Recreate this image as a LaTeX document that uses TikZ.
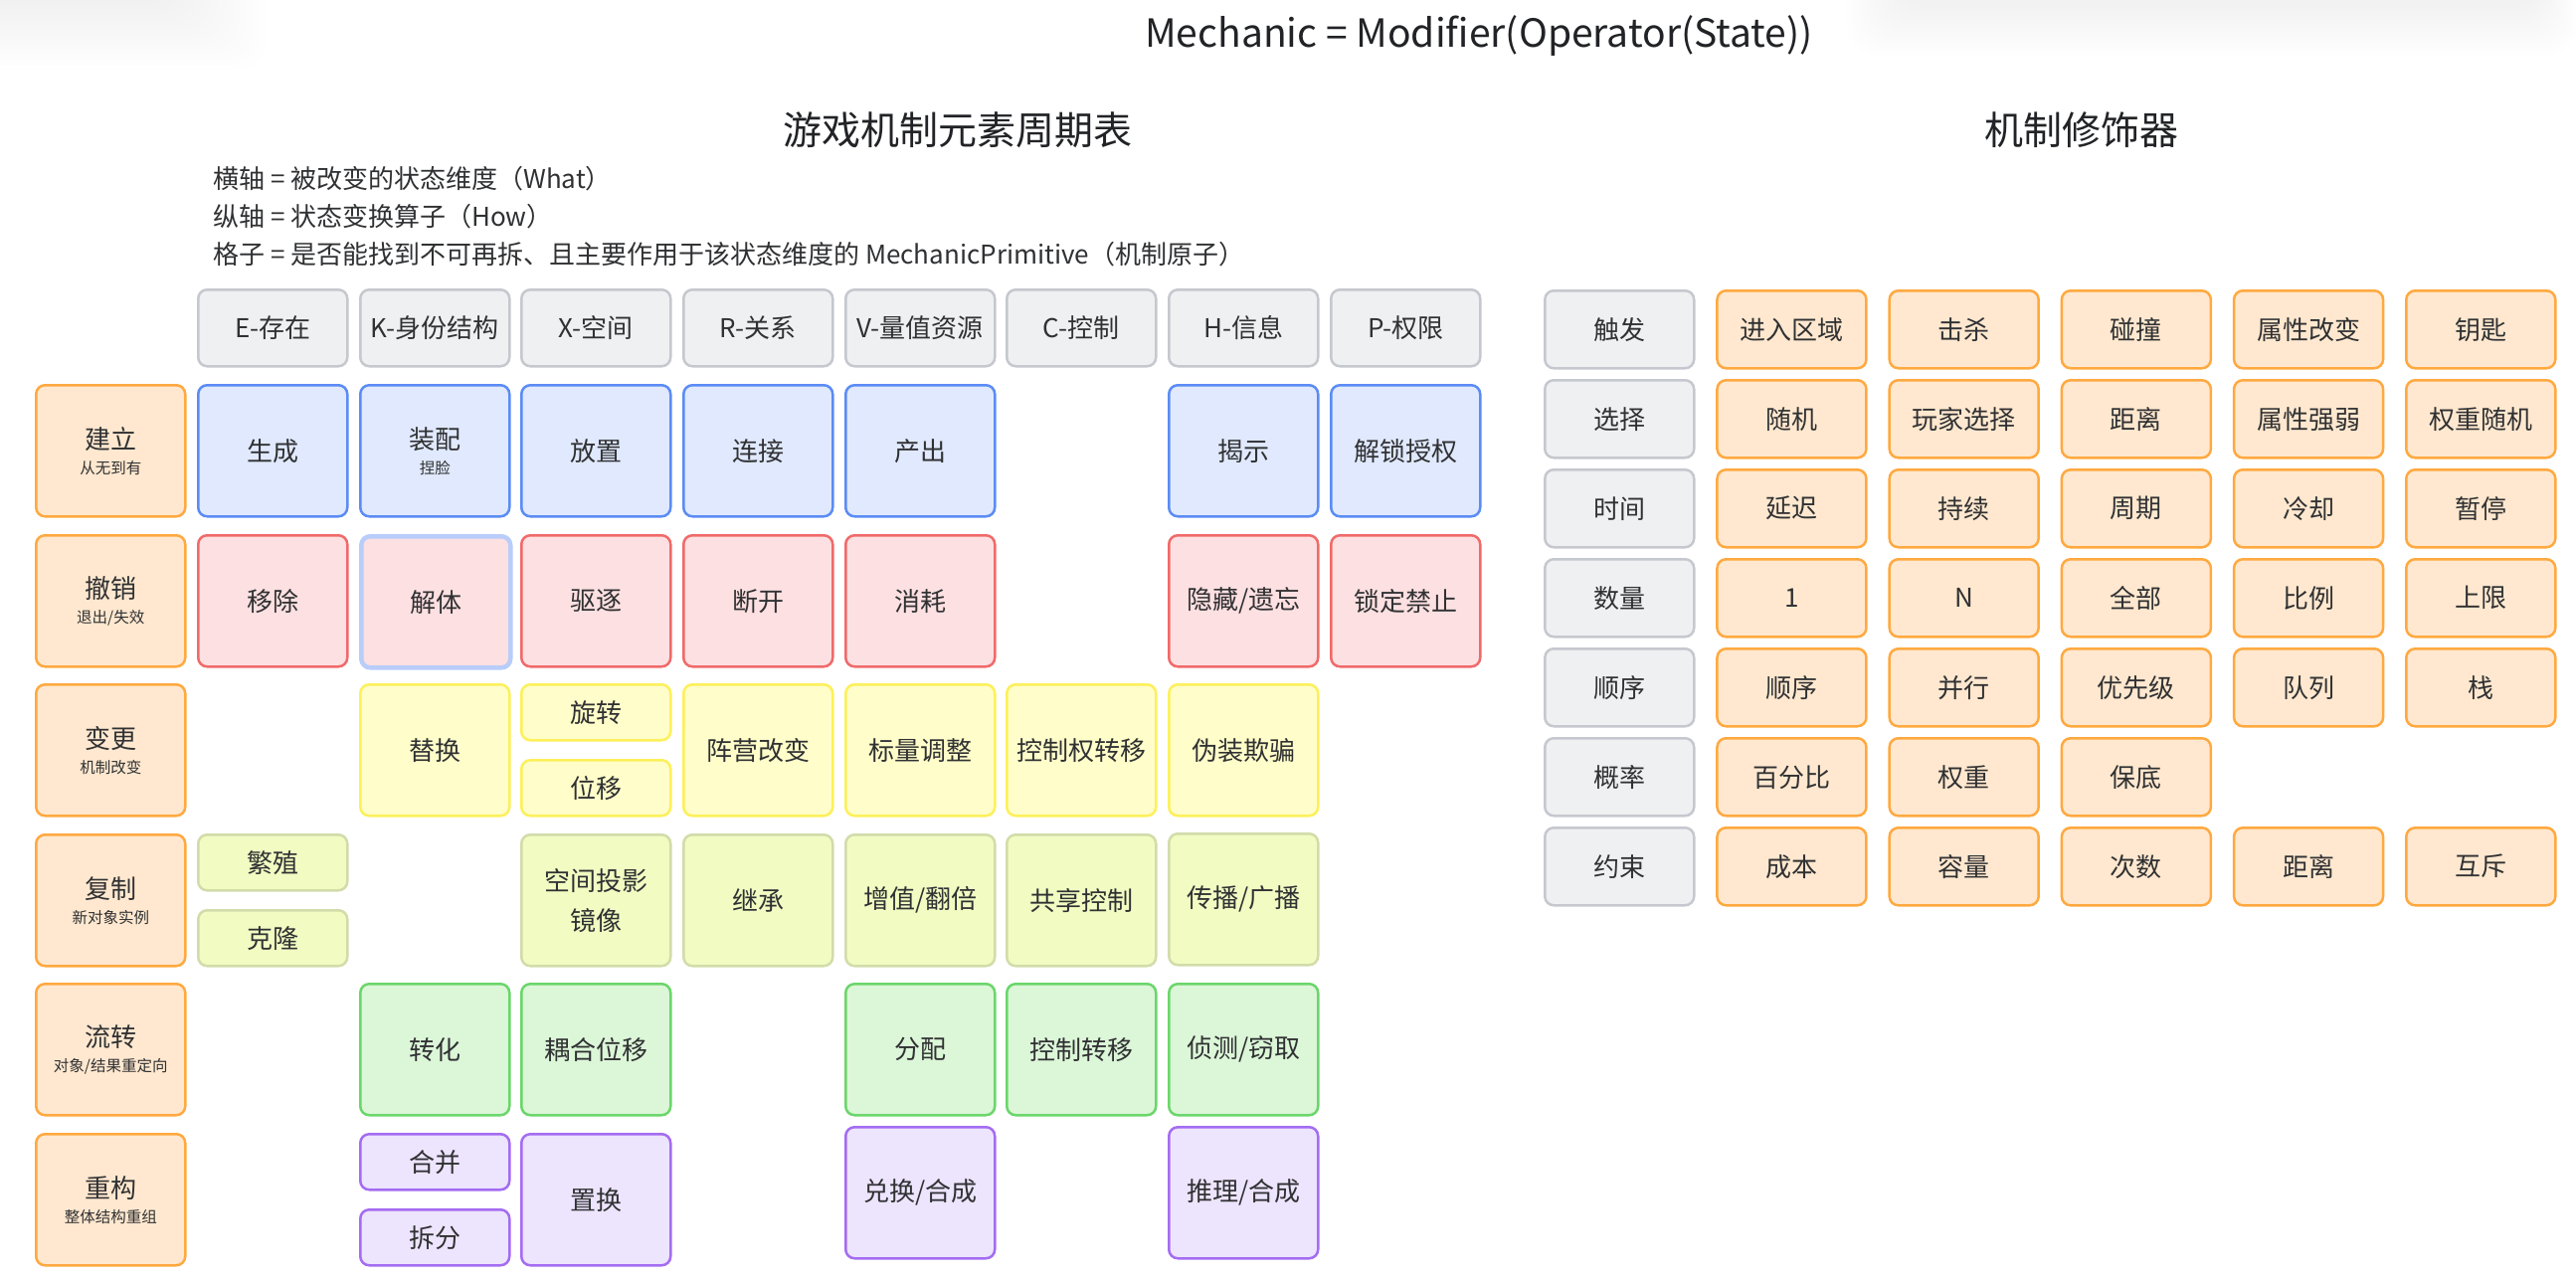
\documentclass[tikz,border=0pt]{standalone}
\usepackage{fontspec}
\setmainfont{Noto Sans CJK SC}
\definecolor{txt}{HTML}{303133}
\definecolor{ttl}{HTML}{222326}
\definecolor{hdrF}{HTML}{EFF0F2}
\definecolor{hdrD}{HTML}{C5C8CE}
\definecolor{rowF}{HTML}{FFE8CF}
\definecolor{rowD}{HTML}{FFA940}
\definecolor{bluF}{HTML}{E0E9FD}
\definecolor{bluD}{HTML}{5B8CF5}
\definecolor{redF}{HTML}{FDE0E1}
\definecolor{redD}{HTML}{F06A6A}
\definecolor{jtD}{HTML}{B9CDFA}
\definecolor{yelF}{HTML}{FFFDC9}
\definecolor{yelD}{HTML}{FDF05A}
\definecolor{limF}{HTML}{F1FBC2}
\definecolor{limD}{HTML}{D2DCAA}
\definecolor{grnF}{HTML}{DCF6D8}
\definecolor{grnD}{HTML}{6BD66B}
\definecolor{purF}{HTML}{EDE4FD}
\definecolor{purD}{HTML}{A46CF2}
\newcommand\subfnt{\fontsize{15.5}{18}\selectfont}
\newcommand\gcell[6]{\node[#1, minimum width=150pt, minimum height=#5pt] (#2) at (#3,#4) {#6};}
\begin{document}
\begin{tikzpicture}[x=1pt,y=-1pt,
  cellbox/.style={draw, line width=2.5pt, rounded corners=9pt, text=txt, inner sep=0pt,
    align=center, font=\fontsize{26}{31}\selectfont, anchor=north west},
  hdrbox/.style={cellbox, fill=hdrF, draw=hdrD},
  rowbox/.style={cellbox, fill=rowF, draw=rowD},
  blubox/.style={cellbox, fill=bluF, draw=bluD},
  redbox/.style={cellbox, fill=redF, draw=redD},
  jtbox/.style={cellbox, fill=redF, draw=jtD, line width=4.5pt},
  yelbox/.style={cellbox, fill=yelF, draw=yelD},
  limbox/.style={cellbox, fill=limF, draw=limD},
  grnbox/.style={cellbox, fill=grnF, draw=grnD},
  purbox/.style={cellbox, fill=purF, draw=purD},
  modhdr/.style={hdrbox, minimum width=150pt, minimum height=78pt},
  moditem/.style={rowbox, minimum width=150pt, minimum height=78pt},
  titletext/.style={text=ttl, inner sep=0pt, font=\fontsize{39}{45}\selectfont},
  legendtext/.style={text=txt, inner sep=0pt, anchor=base west, font=\fontsize{26}{31}\selectfont}
]
\useasboundingbox (0,0) rectangle (2590,1286);
\fill[white] (0,0) rectangle (2590,1286);
% faint shadows at the top edge
\begin{scope}
\clip (0,0) rectangle (2590,1286);
\foreach \i in {0,...,14} {
  \fill[black, opacity=0.0055, rounded corners=30pt] (-300,-300) rectangle ({170+\i*7},{\i*5});
}
\foreach \i in {0,...,12} {
  \fill[black, opacity=0.0035, rounded corners=30pt] ({1905-\i*4},-300) rectangle ({2555+\i*3},{8+\i*4});
}
\end{scope}

% titles
\node[titletext, anchor=base] (maintitle) at (1487,47) {Mechanic = Modifier(Operator(State))};
\node[titletext, anchor=base] (ptitle) at (963,145) {游戏机制元素周期表};
\node[titletext, anchor=base] (mtitle) at (2093,145) {机制修饰器};
\node[legendtext] (lg1) at (214,189) {横轴 = 被改变的状态维度（What）};
\node[legendtext] (lg2) at (214,227) {纵轴 = 状态变换算子（How）};
\node[legendtext] (lg3) at (214,265) {格子 = 是否能找到不可再拆、且主要作用于该状态维度的 MechanicPrimitive（机制原子）};

% column headers
\gcell{hdrbox}{hE}{198}{290}{77}{E-存在}
\gcell{hdrbox}{hK}{361}{290}{77}{K-身份结构}
\gcell{hdrbox}{hX}{523}{290}{77}{X-空间}
\gcell{hdrbox}{hR}{686}{290}{77}{R-关系}
\gcell{hdrbox}{hV}{849}{290}{77}{V-量值资源}
\gcell{hdrbox}{hC}{1011}{290}{77}{C-控制}
\gcell{hdrbox}{hH}{1174}{290}{77}{H-信息}
\gcell{hdrbox}{hP}{1337}{290}{77}{P-权限}

% row headers
\gcell{rowbox}{r1}{35}{386}{132}{建立\\[-6pt]{\subfnt 从无到有}}
\gcell{rowbox}{r2}{35}{537}{132}{撤销\\[-6pt]{\subfnt 退出/失效}}
\gcell{rowbox}{r3}{35}{687}{132}{变更\\[-6pt]{\subfnt 机制改变}}
\gcell{rowbox}{r4}{35}{838}{132}{复制\\[-6pt]{\subfnt 新对象实例}}
\gcell{rowbox}{r5}{35}{988}{132}{流转\\[-6pt]{\subfnt 对象/结果重定向}}
\gcell{rowbox}{r6}{35}{1139}{132}{重构\\[-6pt]{\subfnt 整体结构重组}}

% row 1: 建立
\gcell{blubox}{c1E}{198}{386}{132}{生成}
\gcell{blubox}{c1K}{361}{386}{132}{装配\\[-6pt]{\subfnt 捏脸}}
\gcell{blubox}{c1X}{523}{386}{132}{放置}
\gcell{blubox}{c1R}{686}{386}{132}{连接}
\gcell{blubox}{c1V}{849}{386}{132}{产出}
\gcell{blubox}{c1H}{1174}{386}{132}{揭示}
\gcell{blubox}{c1P}{1337}{386}{132}{解锁授权}

% row 2: 撤销
\gcell{redbox}{c2E}{198}{537}{132}{移除}
\gcell{jtbox}{c2K}{361}{537}{132}{解体}
\gcell{redbox}{c2X}{523}{537}{132}{驱逐}
\gcell{redbox}{c2R}{686}{537}{132}{断开}
\gcell{redbox}{c2V}{849}{537}{132}{消耗}
\gcell{redbox}{c2H}{1174}{537}{132}{隐藏/遗忘}
\gcell{redbox}{c2P}{1337}{537}{132}{锁定禁止}

% row 3: 变更
\gcell{yelbox}{c3K}{361}{687}{132}{替换}
\gcell{yelbox}{c3Xa}{523}{687}{56}{旋转}
\gcell{yelbox}{c3Xb}{523}{763}{56}{位移}
\gcell{yelbox}{c3R}{686}{687}{132}{阵营改变}
\gcell{yelbox}{c3V}{849}{687}{132}{标量调整}
\gcell{yelbox}{c3C}{1011}{687}{132}{控制权转移}
\gcell{yelbox}{c3H}{1174}{687}{132}{伪装欺骗}

% row 4: 复制
\gcell{limbox}{c4Ea}{198}{838}{56}{繁殖}
\gcell{limbox}{c4Eb}{198}{914}{56}{克隆}
\gcell{limbox}{c4X}{523}{838}{132}{空间投影\\[9pt]镜像}
\gcell{limbox}{c4R}{686}{838}{132}{继承}
\gcell{limbox}{c4V}{849}{838}{132}{增值/翻倍}
\gcell{limbox}{c4C}{1011}{838}{132}{共享控制}
\gcell{limbox}{c4H}{1174}{837}{132}{传播/广播}

% row 5: 流转
\gcell{grnbox}{c5K}{361}{988}{132}{转化}
\gcell{grnbox}{c5X}{523}{988}{132}{耦合位移}
\gcell{grnbox}{c5V}{849}{988}{132}{分配}
\gcell{grnbox}{c5C}{1011}{988}{132}{控制转移}
\gcell{grnbox}{c5H}{1174}{988}{132}{侦测/窃取}

% row 6: 重构
\gcell{purbox}{c6Ka}{361}{1139}{56}{合并}
\gcell{purbox}{c6Kb}{361}{1215}{56}{拆分}
\gcell{purbox}{c6X}{523}{1139}{132}{置换}
\gcell{purbox}{c6V}{849}{1132}{132}{兑换/合成}
\gcell{purbox}{c6H}{1174}{1132}{132}{推理/合成}

% modifiers
\foreach \row [count=\r] in {
  {触发,进入区域,击杀,碰撞,属性改变,钥匙},
  {选择,随机,玩家选择,距离,属性强弱,权重随机},
  {时间,延迟,持续,周期,冷却,暂停},
  {数量,1,N,全部,比例,上限},
  {顺序,顺序,并行,优先级,队列,栈},
  {概率,百分比,权重,保底},
  {约束,成本,容量,次数,距离,互斥}} {
  \foreach \lab [count=\c from 0] in \row {
    \ifnum\c=0 \def\st{modhdr}\else\def\st{moditem}\fi
    \node[\st] (m\r-\c) at ({1552+\c*173.2},{291+(\r-1)*90}) {\lab};
  }
}
\end{tikzpicture}
\end{document}
